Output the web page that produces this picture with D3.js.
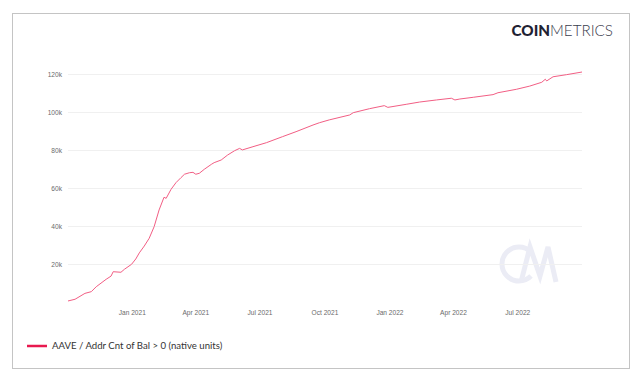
<!DOCTYPE html>
<html>
<head>
<meta charset="utf-8">
<script src="https://cdn.jsdelivr.net/npm/d3@7"></script>
<style>
  body { margin: 0; background: #fff; }
  svg text { font-family: "Liberation Sans", Arial, sans-serif; }
  .legend, .logo { font-family: Lato, "Noto Sans", sans-serif; }
</style>
</head>
<body>
<svg id="chart" width="640" height="379"></svg>
<script>
// AAVE addresses with balance > 0 (thousands)
var dates = ["2020-10-02","2020-10-12","2020-10-26","2020-11-04","2020-11-11","2020-11-25","2020-12-02","2020-12-05",
  "2020-12-16","2020-12-21","2020-12-31","2021-01-06","2021-01-11","2021-01-18","2021-01-25","2021-02-01",
  "2021-02-08","2021-02-15","2021-02-18","2021-02-25","2021-03-04","2021-03-11","2021-03-16","2021-03-23",
  "2021-03-28","2021-04-01","2021-04-06","2021-04-13","2021-04-23","2021-04-27","2021-05-07","2021-05-16",
  "2021-05-26","2021-06-02","2021-06-06","2021-06-21","2021-07-10","2021-08-02","2021-08-21","2021-09-14",
  "2021-09-23","2021-10-07","2021-11-05","2021-11-10","2021-12-03","2021-12-24","2021-12-29","2022-01-24",
  "2022-02-12","2022-03-08","2022-03-29","2022-04-03","2022-04-10","2022-04-29","2022-05-27","2022-06-03",
  "2022-06-29","2022-07-18","2022-08-04","2022-08-09","2022-08-11","2022-08-20","2022-09-08","2022-09-30"];
var addrK = [0.7, 1.6, 4.7, 5.6, 8.2, 12.1, 13.8, 16.1,
  15.8, 17.4, 20.0, 22.8, 26.0, 29.6, 33.7, 39.8,
  48.6, 55.3, 54.7, 59.5, 63.0, 65.6, 67.4, 68.2,
  68.4, 67.4, 67.9, 70.0, 72.6, 73.5, 74.9, 77.5,
  79.8, 81.0, 80.2, 81.9, 84.0, 87.2, 89.8, 93.3,
  94.5, 96.0, 98.6, 99.8, 101.9, 103.5, 102.6, 104.2,
  105.4, 106.5, 107.4, 106.5, 107.0, 107.9, 109.3, 110.3,
  112.1, 113.8, 115.8, 117.4, 116.5, 118.7, 119.8, 121.2];
var yTicks = [20000, 40000, 60000, 80000, 100000, 120000];
var xTicks = ["2021-01-01","2021-04-01","2021-07-01","2021-10-01","2022-01-01","2022-04-01","2022-07-01"];
var seriesName = "AAVE / Addr Cnt of Bal > 0 (native units)";

var parse = d3.timeParse("%Y-%m-%d");
var data = dates.map(function(d, i) { return { date: parse(d), value: addrK[i] * 1000 }; });

var svg = d3.select("#chart");

// outer frame
svg.append("rect")
  .attr("x", 12.5).attr("y", 13.5)
  .attr("width", 617).attr("height", 355)
  .attr("fill", "#fff")
  .attr("stroke", "#c4c4c4");

var x = d3.scaleTime()
  .domain([parse("2020-10-02"), parse("2022-09-30")])
  .range([68, 582]);
var y = d3.scaleLinear()
  .domain([0, 120000])
  .range([302.3, 74.3]);

// watermark
var wm = svg.append("g").attr("fill", "none").attr("stroke", "#ebecf5").attr("stroke-width", 5);
wm.append("path")
  .attr("d", d3.arc()({ innerRadius: 17, outerRadius: 17, startAngle: Math.PI * 0.25, endAngle: Math.PI * 1.75 }))
  .attr("transform", "translate(519,264) rotate(90)");
wm.append("path")
  .attr("stroke-linejoin", "miter")
  .attr("d", "M521,282 L530,247 L540,276 L548,247 L556,282");

// gridlines
svg.append("g")
  .selectAll("line")
  .data(yTicks)
  .enter().append("line")
  .attr("x1", 68).attr("x2", 582)
  .attr("y1", function(d) { return Math.round(y(d)) + 0.5; })
  .attr("y2", function(d) { return Math.round(y(d)) + 0.5; })
  .attr("stroke", "#f0f0f0");

// y labels
svg.append("g")
  .selectAll("text")
  .data(yTicks)
  .enter().append("text")
  .attr("x", 62)
  .attr("y", function(d) { return y(d); })
  .attr("dy", "0.35em")
  .attr("text-anchor", "end")
  .attr("font-size", 6.6)
  .attr("fill", "#6a6a6a")
  .text(function(d) { return d / 1000 + "k"; });

// x labels
svg.append("g")
  .selectAll("text")
  .data(xTicks)
  .enter().append("text")
  .attr("x", function(d) { return x(parse(d)); })
  .attr("y", 312.5)
  .attr("dy", "0.35em")
  .attr("text-anchor", "middle")
  .attr("font-size", 6.6)
  .attr("fill", "#6a6a6a")
  .text(function(d) { return d3.timeFormat("%b %Y")(parse(d)); });

// the series
var line = d3.line()
  .x(function(d) { return x(d.date); })
  .y(function(d) { return y(d.value); });
svg.append("path")
  .datum(data)
  .attr("d", line)
  .attr("fill", "none")
  .attr("stroke", "#f25e84")
  .attr("stroke-width", 1)
  .attr("stroke-linejoin", "round");

// legend
svg.append("line")
  .attr("x1", 27).attr("x2", 47)
  .attr("y1", 346).attr("y2", 346)
  .attr("stroke", "#e8194f")
  .attr("stroke-width", 2.5);
svg.append("text")
  .attr("class", "legend")
  .attr("x", 52).attr("y", 346)
  .attr("dy", "0.35em")
  .attr("font-size", 9.6)
  .attr("fill", "#333")
  .text(seriesName);

// logo
var logo = svg.append("text")
  .attr("class", "logo")
  .attr("x", 613).attr("y", 31)
  .attr("dy", "0.35em")
  .attr("text-anchor", "end")
  .attr("font-size", 15.2)
  .attr("fill", "#1f2233");
logo.append("tspan").attr("font-weight", 900).text("COIN");
logo.append("tspan").attr("font-weight", 300).attr("fill", "#3a3d4d").text("METRICS");
</script>
</body>
</html>
